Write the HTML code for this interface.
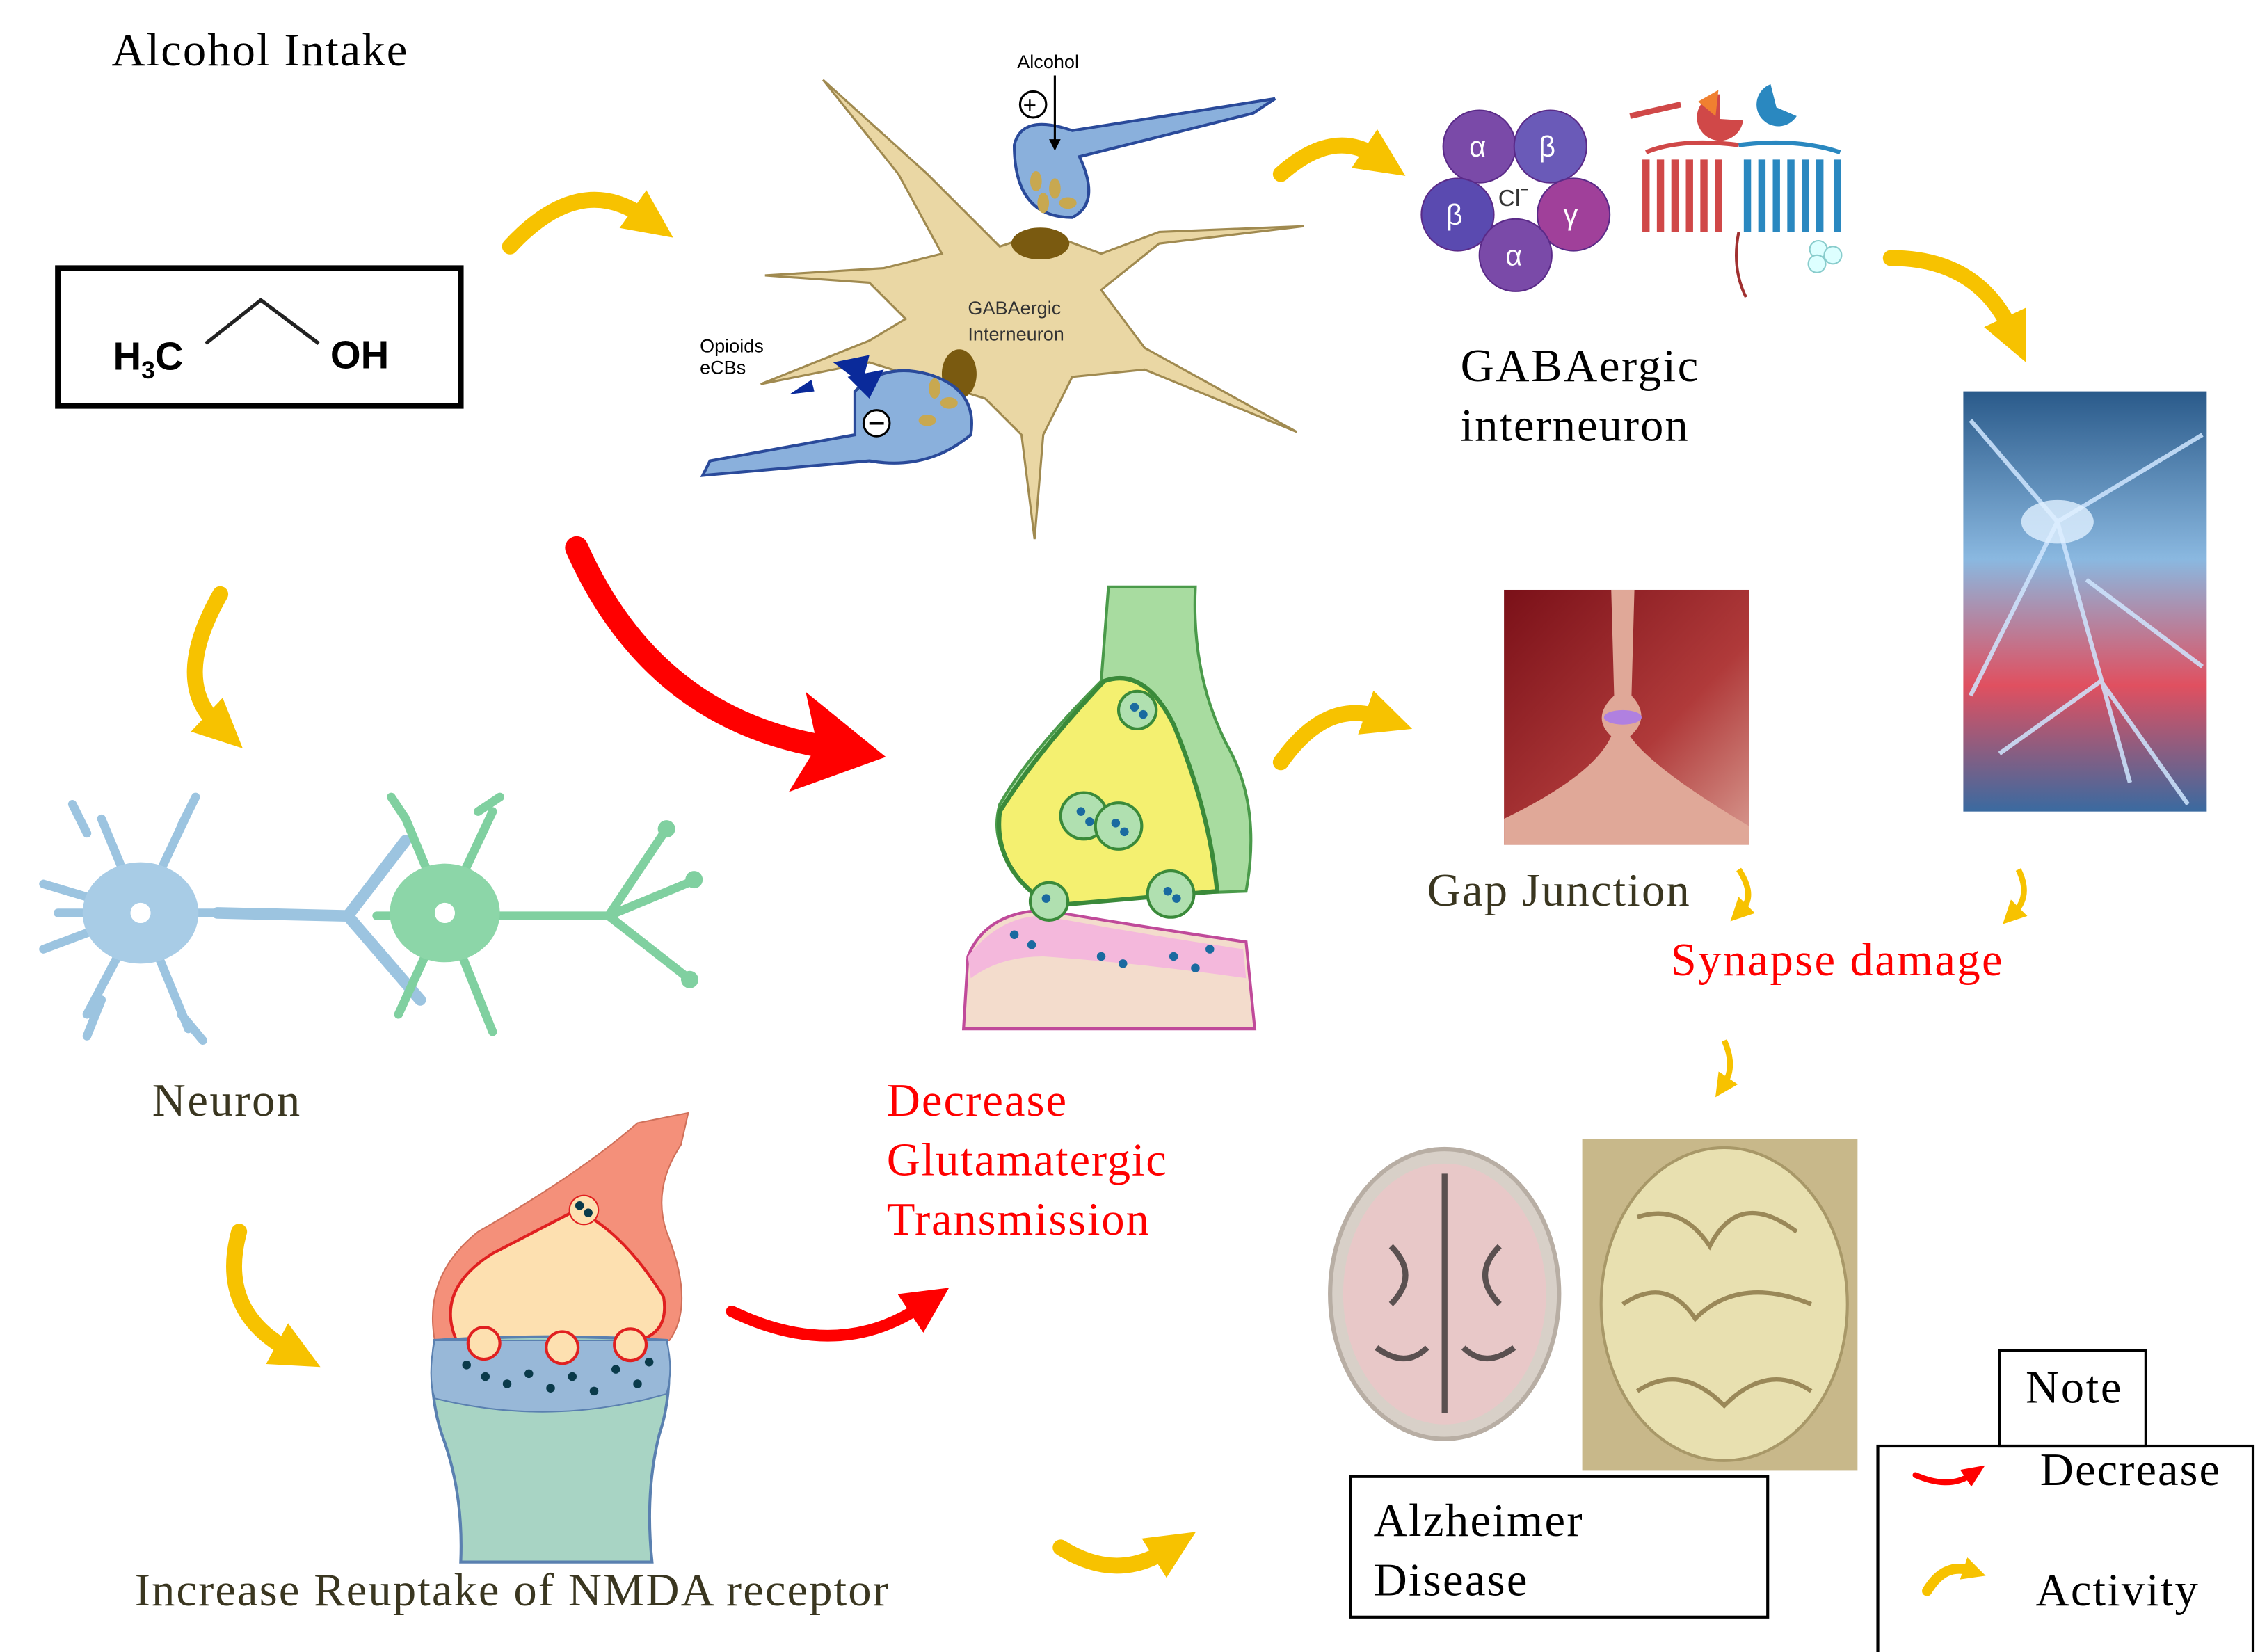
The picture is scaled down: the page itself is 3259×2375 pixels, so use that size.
<!DOCTYPE html>
<html><head><meta charset="utf-8"><style>
html,body{margin:0;padding:0;background:#fff;}
svg{display:block}
.s{font-family:"Liberation Serif",serif;}
.a{font-family:"Liberation Sans",sans-serif;}
</style></head><body>
<svg width="3259" height="2375" viewBox="0 0 1564.6 1140" xmlns="http://www.w3.org/2000/svg">
<defs>
<marker id="yh" markerUnits="userSpaceOnUse" markerWidth="40" markerHeight="40" refX="10" refY="20" orient="auto"><path d="M0,4 L34,20 L0,36 Z" fill="#f7c200"/></marker>
<marker id="ys" markerUnits="userSpaceOnUse" markerWidth="20" markerHeight="20" refX="5" refY="10" orient="auto"><path d="M0,2 L16,10 L0,18 Z" fill="#f7c200"/></marker>
<marker id="rh" markerUnits="userSpaceOnUse" markerWidth="70" markerHeight="70" refX="18" refY="35" orient="auto"><path d="M0,0 L62,35 L0,70 L14,35 Z" fill="#f00"/></marker>
<marker id="rs" markerUnits="userSpaceOnUse" markerWidth="40" markerHeight="40" refX="8" refY="20" orient="auto"><path d="M0,4 L32,20 L0,36 Z" fill="#f00"/></marker>
<marker id="rl" markerUnits="userSpaceOnUse" markerWidth="20" markerHeight="20" refX="4" refY="10" orient="auto"><path d="M0,3 L16,10 L0,17 Z" fill="#f00"/></marker>
<linearGradient id="gj" x1="0" y1="0" x2="1" y2="1"><stop offset="0" stop-color="#7a1018"/><stop offset="0.6" stop-color="#b03a3a"/><stop offset="1" stop-color="#d89a90"/></linearGradient>
<linearGradient id="sd" x1="0" y1="0" x2="0" y2="1"><stop offset="0" stop-color="#2a5a8a"/><stop offset="0.4" stop-color="#8ab8e0"/><stop offset="0.7" stop-color="#e05060"/><stop offset="1" stop-color="#3a6aa0"/></linearGradient>
</defs>

<text class="s" x="77" y="45" font-size="32" textLength="204">Alcohol Intake</text>
<rect x="40" y="185" width="278" height="95" fill="none" stroke="#000" stroke-width="4"/>
<text class="a" x="78" y="255" font-size="27" font-weight="bold">H<tspan font-size="17" dy="6">3</tspan><tspan dy="-6">C</tspan></text>
<polyline points="142,237 180,207 220,237" fill="none" stroke="#222" stroke-width="2.5"/>
<text class="a" x="228" y="254" font-size="27" font-weight="bold">OH</text>

<g fill="none" stroke="#f7c200" stroke-width="11" stroke-linecap="round">
<path d="M352,170 Q400,118 445,150" marker-end="url(#yh)"/>
<path d="M884,120 Q920,88 950,108" marker-end="url(#yh)"/>
<path d="M1305,178 Q1365,178 1388,228" marker-end="url(#yh)"/>
<path d="M152,410 Q118,470 150,500" marker-end="url(#yh)"/>
<path d="M165,850 Q150,905 200,932" marker-end="url(#yh)"/>
<path d="M884,526 Q915,482 952,495" marker-end="url(#yh)"/>
<path d="M732,1068 Q770,1092 805,1070" marker-end="url(#yh)"/>
<path d="M1330,1098 Q1342,1078 1360,1084" stroke-width="7" marker-end="url(#ys)"/>
</g>
<g fill="none" stroke="#f7c200" stroke-width="4">
<path d="M1200,600 Q1212,618 1202,628" marker-end="url(#ys)"/>
<path d="M1393,600 Q1402,618 1390,630" marker-end="url(#ys)"/>
<path d="M1190,718 Q1198,736 1190,748" marker-end="url(#ys)"/>
</g>
<g fill="none" stroke="#f00" stroke-linecap="round">
<path d="M398,378 Q450,495 568,515" stroke-width="16" marker-end="url(#rh)"/>
<path d="M505,905 Q578,940 635,902" stroke-width="8" marker-end="url(#rs)"/>
<path d="M1322,1018 Q1345,1028 1360,1018" stroke-width="4" marker-end="url(#rl)"/>
</g>

<g stroke="#a08a50" stroke-width="1.5" fill="#ead7a4">
<path d="M568,55 L640,120 L690,170 L720,160 L760,175 L800,160 L900,156 L800,168 L760,200 L790,240 L895,298 L790,255 L740,260 L720,300 L714,372 L705,300 L680,275 L600,250 L525,265 L600,235 L625,220 L600,195 L528,190 L610,185 L650,175 L620,120 Z"/>
</g>
<ellipse cx="718" cy="168" rx="20" ry="11" fill="#7a5a10"/>
<ellipse cx="662" cy="258" rx="12" ry="17" fill="#7a5a10"/>
<text class="a" x="668" y="217" font-size="13" fill="#333">GABAergic</text>
<text class="a" x="668" y="235" font-size="13" fill="#333">Interneuron</text>
<path d="M700,100 Q705,78 740,90 L880,68 L865,78 L745,108 Q760,140 740,150 Q700,150 700,100 Z" fill="#8ab0dc" stroke="#2a4a9a" stroke-width="2"/>
<path d="M590,270 Q610,250 640,258 Q675,268 670,300 Q640,325 600,318 L485,328 L490,318 L590,300 Z" fill="#8ab0dc" stroke="#2a4a9a" stroke-width="2"/>
<path d="M545,272 L560,262 L562,270 Z M575,250 L600,245 L595,265 Z M585,260 L610,255 L600,275 Z" fill="#0a2a9a"/>
<g fill="#c8a850"><ellipse cx="715" cy="125" rx="4" ry="7"/><ellipse cx="728" cy="130" rx="4" ry="7"/><ellipse cx="720" cy="140" rx="4" ry="7"/><ellipse cx="737" cy="140" rx="6" ry="4"/><ellipse cx="645" cy="268" rx="4" ry="7"/><ellipse cx="655" cy="278" rx="6" ry="4"/><ellipse cx="640" cy="290" rx="6" ry="4"/></g>
<text class="a" x="702" y="47" font-size="13">Alcohol</text>
<line x1="728" y1="52" x2="728" y2="100" stroke="#000" stroke-width="1.5"/><path d="M724,96 L728,104 L732,96 Z"/>
<circle cx="713" cy="72" r="9" fill="none" stroke="#000" stroke-width="1.5"/><text class="a" x="706" y="78" font-size="16">+</text>
<circle cx="605" cy="292" r="9" fill="#fff" stroke="#000" stroke-width="1.5"/><line x1="600" y1="292" x2="610" y2="292" stroke="#000" stroke-width="2"/>
<text class="a" x="483" y="243" font-size="13">Opioids</text><text class="a" x="483" y="258" font-size="13">eCBs</text>

<g fill="#7a4aa8" stroke="#5a2a88"><circle cx="1021" cy="101" r="25"/><circle cx="1070" cy="101" r="25" fill="#6a5ab8"/><circle cx="1006" cy="148" r="25" fill="#5a4ab0"/><circle cx="1086" cy="148" r="25" fill="#a0409a"/><circle cx="1046" cy="176" r="25" fill="#7a4aa8"/></g>
<g class="a" fill="#fff" font-size="20"><text x="1014" y="108">α</text><text x="1062" y="108">β</text><text x="998" y="155">β</text><text x="1079" y="155">γ</text><text x="1039" y="183">α</text></g>
<text class="a" x="1034" y="142" font-size="16" fill="#333">Cl<tspan font-size="10" dy="-8">−</tspan></text>
<g fill="none" stroke-width="5">
<path d="M1136,160 V110 M1146,110 V160 M1156,160 V110 M1166,110 V160 M1176,160 V110 M1186,110 V160" stroke="#d04848"/>
<path d="M1206,160 V110 M1216,110 V160 M1226,160 V110 M1236,110 V160 M1246,160 V110 M1256,110 V160 M1268,160 V110" stroke="#2a88c0"/>
<path d="M1136,105 Q1160,95 1200,100" stroke="#d04848" stroke-width="3"/><path d="M1200,100 Q1240,95 1270,105" stroke="#2a88c0" stroke-width="3"/>
<path d="M1200,160 Q1195,185 1205,205" stroke="#a03030" stroke-width="2"/>
</g>
<path d="M1187,65 a16,16 0 1,0 16,18 L1187,82 Z" fill="#d04848"/><path d="M1222,58 a15,15 0 1,0 18,22 L1226,74 Z" fill="#2a88c0"/>
<path d="M1172,70 L1186,62 L1184,80 Z" fill="#f08030"/>
<path d="M1125,80 L1160,72" stroke="#d04848" stroke-width="4"/>
<g fill="#dff" stroke="#8cc"><circle cx="1255" cy="172" r="6"/><circle cx="1265" cy="176" r="6"/><circle cx="1254" cy="182" r="6"/></g>
<text class="s" x="1008" y="263" font-size="32" textLength="164">GABAergic</text>
<text class="s" x="1008" y="304" font-size="32" textLength="157">interneuron</text>

<rect x="1355" y="270" width="168" height="290" fill="url(#sd)"/>
<g stroke="#cfe6ff" stroke-width="3" fill="none" opacity="0.85"><path d="M1360,290 L1420,360 L1520,300"/><path d="M1420,360 L1470,540"/><path d="M1420,360 L1360,480"/><path d="M1440,400 L1520,460"/><path d="M1380,520 L1450,470 L1510,555"/></g>
<ellipse cx="1420" cy="360" rx="25" ry="15" fill="#e0f0ff" opacity="0.8"/>

<path d="M765,405 H825 Q822,470 850,520 Q870,560 860,615 L720,620 Q680,590 690,555 Q710,520 760,470 Z" fill="#a8dca0" stroke="#4a9a4a" stroke-width="2"/>
<path d="M762,470 Q790,460 810,500 Q835,560 840,615 L725,625 Q685,600 690,560 Q715,520 762,470 Z" fill="#f4f070" stroke="#3a8a3a" stroke-width="3"/>
<path d="M665,710 L668,660 Q680,630 720,628 Q790,640 860,650 L866,710 Z" fill="#f3dccc" stroke="#c04a9a" stroke-width="2"/>
<path d="M668,660 Q690,632 720,632 Q790,645 858,655 L860,675 Q790,665 720,660 Q690,660 670,675 Z" fill="#f4b8dc"/>
<g fill="#b0e0b0" stroke="#3a8a3a" stroke-width="2"><circle cx="785" cy="490" r="13"/><circle cx="748" cy="563" r="16"/><circle cx="772" cy="570" r="16"/><circle cx="808" cy="617" r="16"/><circle cx="724" cy="622" r="13"/></g>
<g fill="#1a6aa0"><circle cx="783" cy="488" r="3"/><circle cx="789" cy="493" r="3"/><circle cx="746" cy="560" r="3"/><circle cx="752" cy="567" r="3"/><circle cx="770" cy="568" r="3"/><circle cx="776" cy="574" r="3"/><circle cx="806" cy="615" r="3"/><circle cx="812" cy="620" r="3"/><circle cx="722" cy="620" r="3"/><circle cx="700" cy="645" r="3"/><circle cx="712" cy="652" r="3"/><circle cx="760" cy="660" r="3"/><circle cx="775" cy="665" r="3"/><circle cx="810" cy="660" r="3"/><circle cx="825" cy="668" r="3"/><circle cx="835" cy="655" r="3"/></g>

<rect x="1038" y="407" width="169" height="176" fill="url(#gj)"/>
<path d="M1112,407 H1128 L1126,480 Q1140,495 1125,508 Q1140,530 1207,570 V583 H1038 V565 Q1100,535 1112,508 Q1098,495 1114,480 Z" fill="#e0a898"/>
<ellipse cx="1120" cy="495" rx="13" ry="5" fill="#b080e0"/>
<text class="s" x="985" y="625" font-size="32" fill="#3a3620" textLength="181">Gap Junction</text>
<text class="s" x="1153" y="673" font-size="32" fill="#f00" textLength="229">Synapse damage</text>

<g stroke-linecap="round" fill="none">
<g stroke="#9cc4e0" stroke-width="6"><path d="M40,630 L150,630 M97,630 L70,565 M97,630 L130,560 M97,630 L60,700 M97,630 L130,710 M97,630 L30,610 M97,630 L30,655 M60,575 L50,555 M125,570 L135,550 M70,690 L60,715 M125,700 L140,718"/><path d="M150,630 L240,632 L280,580 M240,632 L290,690" stroke-width="8"/></g>
<ellipse cx="97" cy="630" rx="40" ry="35" fill="#a8cce6" stroke="none"/>
<g stroke="#80d0a0" stroke-width="6"><path d="M260,632 L420,632 L460,572 M420,632 L478,608 M420,632 L475,675 M307,630 L280,565 M307,630 L340,560 M307,630 L275,700 M307,630 L340,712 M330,560 L345,550 M280,565 L270,550"/></g>
<ellipse cx="307" cy="630" rx="38" ry="34" fill="#8cd6a8" stroke="none"/>
<g fill="#80d0a0"><circle cx="460" cy="572" r="6"/><circle cx="479" cy="607" r="6"/><circle cx="476" cy="676" r="6"/></g>
<circle cx="97" cy="630" r="7" fill="#fff"/><circle cx="307" cy="630" r="7" fill="#fff"/>
</g>
<text class="s" x="105" y="770" font-size="32" fill="#3a3620" textLength="102">Neuron</text>

<path d="M440,775 L475,768 L470,790 Q450,820 460,850 Q480,900 462,925 L300,925 Q292,880 330,850 Q400,810 440,775 Z" fill="#f4907a" stroke="#d0705a"/>
<path d="M398,835 Q430,850 458,895 Q462,920 440,925 L315,925 Q300,890 340,865 Z" fill="#fde0b0" stroke="#e02020" stroke-width="2"/>
<circle cx="403" cy="835" r="10" fill="#fde0b0" stroke="#e02020"/>
<path d="M300,925 Q295,960 305,990 Q320,1030 318,1078 H450 Q445,1030 455,990 Q465,960 460,925 Q380,920 300,925 Z" fill="#a8d4c4" stroke="#5a80b0" stroke-width="2"/>
<path d="M300,925 Q295,950 300,965 Q380,985 460,962 Q465,945 460,925 Z" fill="#98b8d8" stroke="#5a80b0"/>
<g fill="#fde0b0" stroke="#e02020" stroke-width="2"><circle cx="334" cy="927" r="11"/><circle cx="388" cy="930" r="11"/><circle cx="435" cy="928" r="11"/></g>
<g fill="#0a3a4a"><circle cx="322" cy="942" r="3"/><circle cx="335" cy="950" r="3"/><circle cx="350" cy="955" r="3"/><circle cx="365" cy="948" r="3"/><circle cx="380" cy="958" r="3"/><circle cx="395" cy="950" r="3"/><circle cx="410" cy="960" r="3"/><circle cx="425" cy="945" r="3"/><circle cx="440" cy="955" r="3"/><circle cx="448" cy="940" r="3"/><circle cx="400" cy="832" r="3"/><circle cx="406" cy="837" r="3"/></g>
<text class="s" x="93" y="1108" font-size="32" fill="#3a3620" textLength="520">Increase Reuptake of NMDA receptor</text>

<text class="s" x="612" y="770" font-size="32" fill="#f00" textLength="124">Decrease</text>
<text class="s" x="612" y="811" font-size="32" fill="#f00" textLength="193">Glutamatergic</text>
<text class="s" x="612" y="852" font-size="32" fill="#f00" textLength="181">Transmission</text>

<ellipse cx="997" cy="893" rx="79" ry="100" fill="#d8d0c8" stroke="#b8aea4" stroke-width="3"/>
<ellipse cx="997" cy="893" rx="70" ry="90" fill="#e8c8c8"/>
<g stroke="#5a5050" stroke-width="4" fill="none"><path d="M997,810 V975 M960,860 Q980,880 960,900 M1035,860 Q1015,880 1035,900 M950,930 Q970,945 985,930 M1010,930 Q1025,945 1045,930"/></g>
<rect x="1092" y="786" width="190" height="229" fill="#c8b88a"/>
<ellipse cx="1190" cy="900" rx="85" ry="108" fill="#e8e0b0" stroke="#a89868" stroke-width="2"/>
<g stroke="#9a8858" stroke-width="3" fill="none"><path d="M1130,840 Q1160,830 1180,860 Q1200,820 1240,850 M1120,900 Q1150,880 1170,910 Q1200,880 1250,900 M1130,960 Q1160,940 1190,970 Q1220,940 1250,960"/></g>
<rect x="932" y="1019" width="288" height="97" fill="#fff" stroke="#000" stroke-width="2"/>
<text class="s" x="948" y="1060" font-size="32" textLength="144">Alzheimer</text>
<text class="s" x="948" y="1101" font-size="32" textLength="106">Disease</text>

<rect x="1380" y="932" width="101" height="66" fill="#fff" stroke="#000" stroke-width="2"/>
<text class="s" x="1398" y="968" font-size="32" textLength="66">Note</text>
<rect x="1296" y="998" width="259" height="160" fill="none" stroke="#000" stroke-width="2"/>
<text class="s" x="1408" y="1025" font-size="32" textLength="124">Decrease</text>
<text class="s" x="1405" y="1108" font-size="32" textLength="112">Activity</text>
</svg>
</body></html>
